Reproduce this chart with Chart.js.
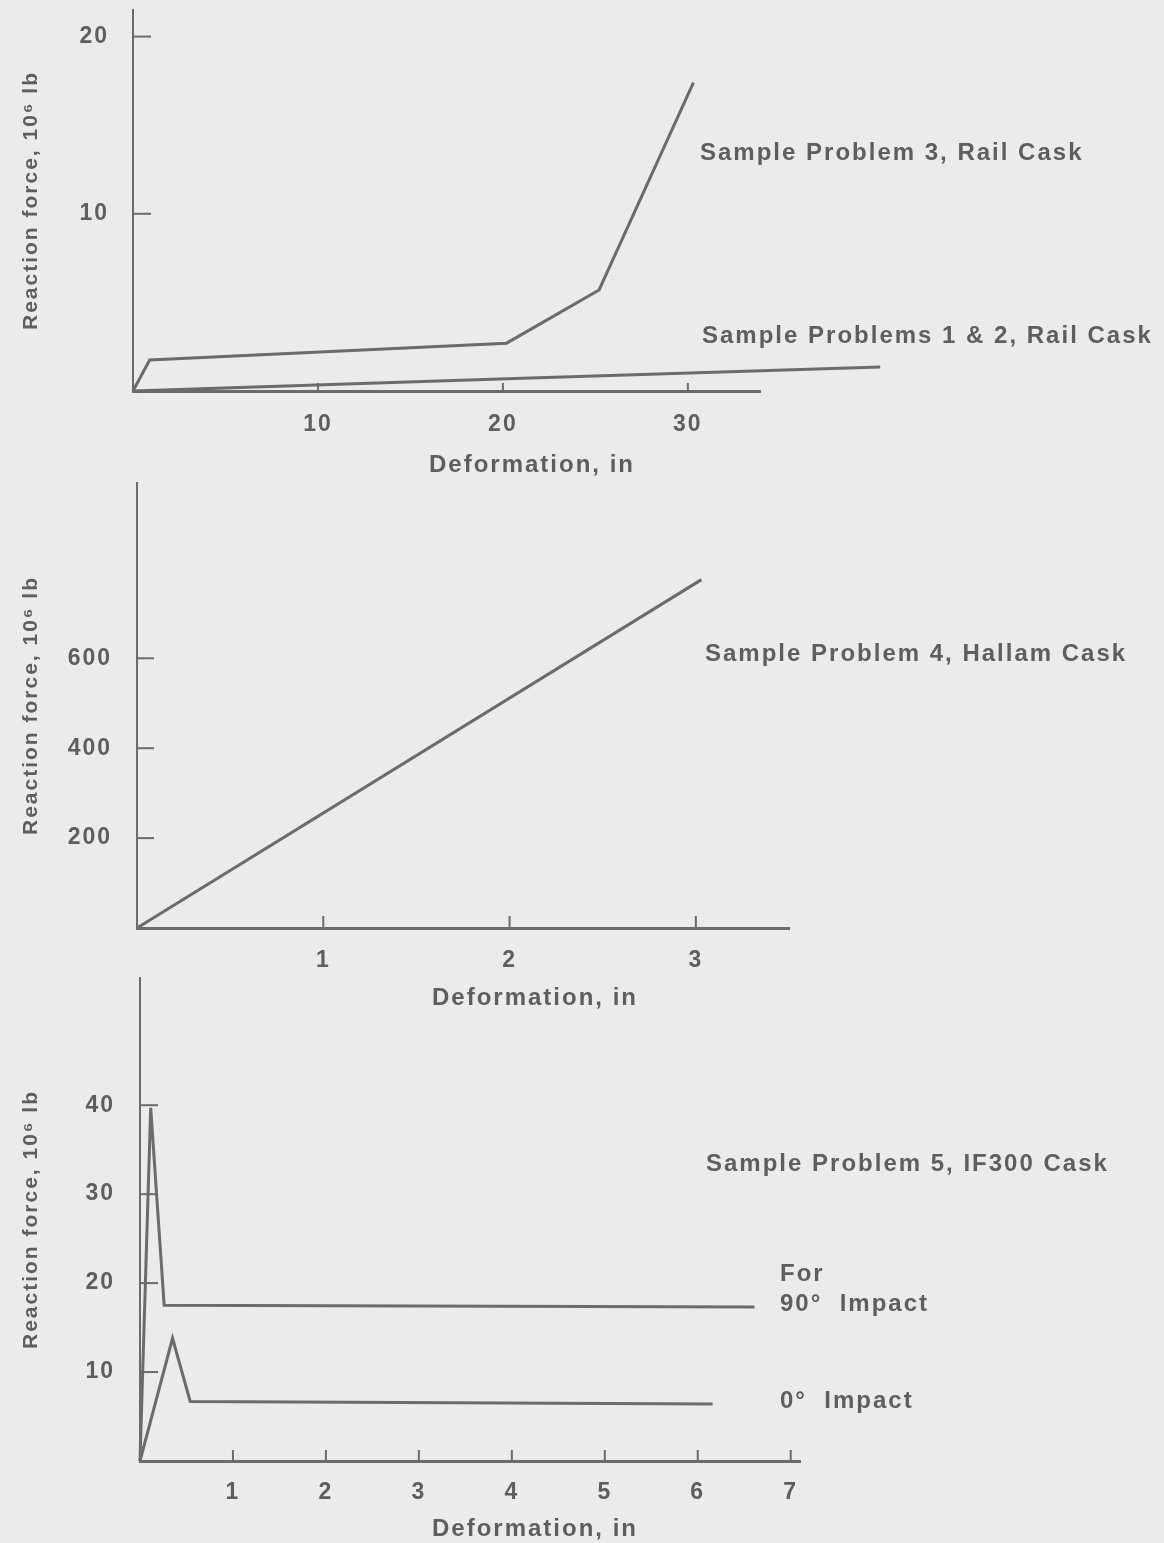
<!DOCTYPE html>
<html>
<head>
<meta charset="utf-8">
<script src="https://cdn.jsdelivr.net/npm/chart.js@4.4.0/dist/chart.umd.min.js"></script>
<style>
    body { margin: 0; width: 1164px; height: 1543px; background: #ebebe9; position: relative; overflow: hidden; font-family: "Liberation Sans", Arial, sans-serif; }
    canvas { position: absolute; left: 0; }
    .lbl { position: absolute; font-size: 24px; font-weight: bold; letter-spacing: 2px; color: #5e5e5e; white-space: pre; line-height: 1; transform: translateY(-50%); }
    .ctr { transform: translate(-50%, -50%); }
</style>
</head>
<body>
<canvas id="chart1" width="1164" height="480" style="top:0px"></canvas>
<canvas id="chart2" width="1164" height="540" style="top:470px"></canvas>
<canvas id="chart3" width="1164" height="578" style="top:965px"></canvas>

<div class="lbl" style="left:700px; top:152px;">Sample Problem 3, Rail Cask</div>
<div class="lbl" style="left:702px; top:335px;">Sample Problems 1 &amp; 2, Rail Cask</div>
<div class="lbl ctr" style="left:532px; top:464px;">Deformation, in</div>

<div class="lbl" style="left:705px; top:653px;">Sample Problem 4, Hallam Cask</div>
<div class="lbl ctr" style="left:535px; top:997px;">Deformation, in</div>

<div class="lbl" style="left:706px; top:1163px;">Sample Problem 5, IF300 Cask</div>
<div class="lbl" style="left:780px; top:1273px;">For</div>
<div class="lbl" style="left:780px; top:1303px;">90°  Impact</div>
<div class="lbl" style="left:780px; top:1400px;">0°  Impact</div>
<div class="lbl ctr" style="left:535px; top:1528px;">Deformation, in</div>

<script>
// --- Top: sample problems 1-3, rail cask (in, 10^6 lb) ---
const rail3X = [0, 0.9, 20.2, 25.2, 30.3];
const rail3Y = [0, 1.75, 2.7, 5.7, 17.4];
const rail12X = [0, 19.8, 40.4];
const rail12Y = [0, 0.68, 1.36];
const ticksX1 = [10, 20, 30];
const ticksY1 = [10, 20];

// --- Middle: sample problem 4, Hallam cask ---
const hallamX = [0, 3.03];
const hallamY = [0, 775];
const ticksX2 = [1, 2, 3];
const ticksY2 = [200, 400, 600];

// --- Bottom: sample problem 5, IF300 cask ---
const impact90X = [0, 0.115, 0.26, 6.61];
const impact90Y = [0, 39.7, 17.5, 17.3];
const impact0X = [0, 0.35, 0.54, 6.16];
const impact0Y = [0, 13.8, 6.7, 6.4];
const ticksX3 = [1, 2, 3, 4, 5, 6, 7];
const ticksY3 = [10, 20, 30, 40];

const INK = '#6b6b6b';
const TEXT = '#5e5e5e';
const FONT = { family: "'Liberation Sans', Arial, sans-serif", size: 23, weight: 'bold' };
const TITLE_FONT = { family: "'Liberation Sans', Arial, sans-serif", size: 21, weight: 'bold' };

function toPoints(xs, ys) {
    return xs.map((x, i) => ({ x: x, y: ys[i] }));
}

// short tick marks drawn inside the plot, like the original figure
const innerTicks = {
    id: 'innerTicks',
    beforeDraw(chart) { chart.ctx.letterSpacing = '2px'; },
    afterDatasetsDraw(chart, args, opts) {
        const { ctx, chartArea, scales } = chart;
        ctx.save();
        ctx.strokeStyle = INK;
        ctx.lineWidth = 2;
        scales.y.ticks.forEach(t => {
            const y = scales.y.getPixelForValue(t.value);
            ctx.beginPath(); ctx.moveTo(chartArea.left, y); ctx.lineTo(chartArea.left + opts.yLen, y); ctx.stroke();
        });
        scales.x.ticks.forEach(t => {
            const x = scales.x.getPixelForValue(t.value);
            ctx.beginPath(); ctx.moveTo(x, chartArea.bottom); ctx.lineTo(x, chartArea.bottom - opts.xLen); ctx.stroke();
        });
        ctx.restore();
    }
};

function makeChart(id, datasets, cfg) {
    return new Chart(document.getElementById(id), {
        type: 'line',
        data: {
            datasets: datasets.map(d => ({
                data: toPoints(d.x, d.y),
                borderColor: INK, borderWidth: 3, pointRadius: 0,
                tension: 0, fill: false, clip: false
            }))
        },
        plugins: [innerTicks],
        options: {
            responsive: false, animation: false,
            layout: { padding: { top: cfg.padTop, right: cfg.padRight, left: 0, bottom: 0 } },
            plugins: { legend: { display: false }, tooltip: { enabled: false }, innerTicks: { xLen: cfg.xLen, yLen: cfg.yLen } },
            scales: {
                x: {
                    type: 'linear', min: 0, max: cfg.xMax,
                    grid: { display: false, drawTicks: false },
                    border: { display: true, color: INK, width: 3 },
                    ticks: { color: TEXT, font: FONT, padding: cfg.xPad, maxRotation: 0 },
                    afterBuildTicks: s => { s.ticks = cfg.xTicks.map(v => ({ value: v })); },
                    afterFit: s => { s.height = cfg.xHeight; s.paddingLeft = 0; s.paddingRight = 0; }
                },
                y: {
                    type: 'linear', min: 0, max: cfg.yMax,
                    grid: { display: false, drawTicks: false },
                    border: { display: true, color: INK, width: 2 },
                    ticks: { color: TEXT, font: FONT, padding: cfg.yPad },
                    afterBuildTicks: s => { s.ticks = cfg.yTicks.map(v => ({ value: v })); },
                    afterFit: s => { s.width = cfg.yWidth; s.paddingTop = 0; s.paddingBottom = 0; },
                    title: { display: true, text: 'Reaction force, 10⁶ lb', color: TEXT, font: TITLE_FONT, padding: { top: 19, bottom: 0 } }
                }
            }
        }
    });
}

makeChart('chart1', [{ x: rail3X, y: rail3Y }, { x: rail12X, y: rail12Y }], {
    xMax: 33.9, yMax: 21.5, xTicks: ticksX1, yTicks: ticksY1,
    padTop: 10, padRight: 404, yWidth: 133, xHeight: 89, xPad: 20, yPad: 24, xLen: 8, yLen: 18
});

makeChart('chart2', [{ x: hallamX, y: hallamY }], {
    xMax: 3.5, yMax: 990, xTicks: ticksX2, yTicks: ticksY2,
    padTop: 13, padRight: 375, yWidth: 137, xHeight: 82, xPad: 19, yPad: 25, xLen: 12, yLen: 17
});

makeChart('chart3', [{ x: impact90X, y: impact90Y }, { x: impact0X, y: impact0Y }], {
    xMax: 7.1, yMax: 54.3, xTicks: ticksX3, yTicks: ticksY3,
    padTop: 13, padRight: 364, yWidth: 140, xHeight: 82, xPad: 18, yPad: 25, xLen: 11, yLen: 18
});
</script>
</body>
</html>
